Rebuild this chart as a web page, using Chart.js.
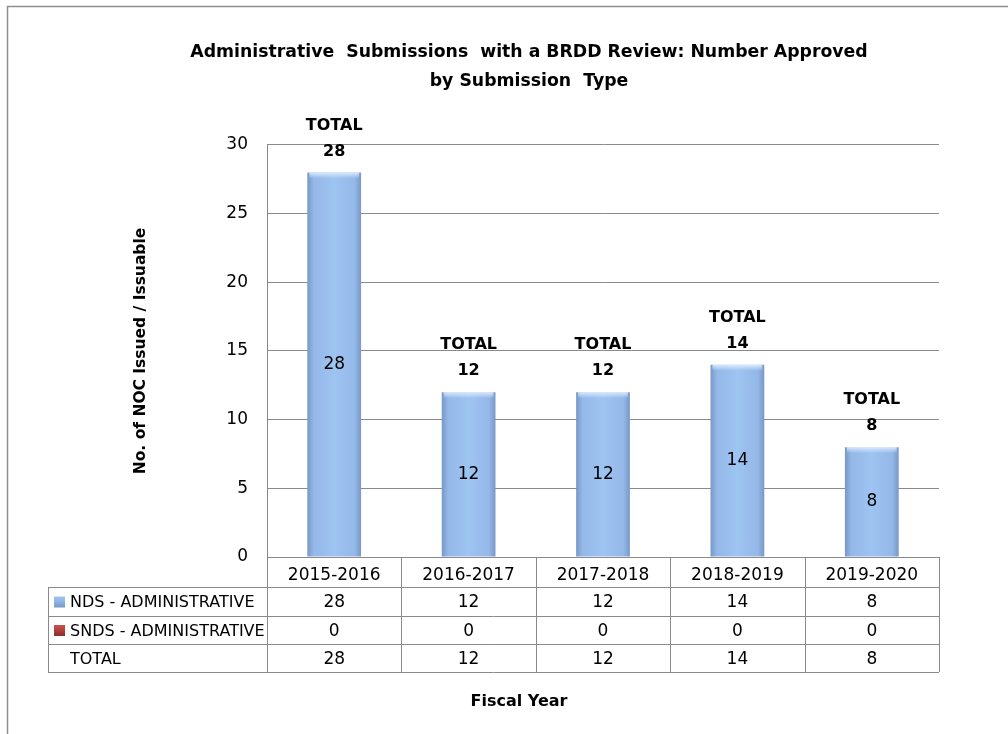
<!DOCTYPE html>
<html>
<head>
<meta charset="utf-8">
<script src="https://cdn.jsdelivr.net/npm/chart.js@4/dist/chart.umd.min.js"></script>
<style>
  html, body { margin: 0; padding: 0; background: #fff; }
  #wrap { width: 1008px; height: 734px; position: relative; }
</style>
</head>
<body>
<div id="wrap"><canvas id="c"></canvas></div>
<script>
// ---- data ----
const categories = ['2015-2016', '2016-2017', '2017-2018', '2018-2019', '2019-2020'];
const ndsAdministrative = [28, 12, 12, 14, 8];
const sndsAdministrative = [0, 0, 0, 0, 0];
const totals = [28, 12, 12, 14, 8];
const seriesNames = ['NDS - ADMINISTRATIVE', 'SNDS - ADMINISTRATIVE'];
const totalRowName = 'TOTAL';
const yTicksMin = 0, yTicksMax = 30, yTicksStep = 5;
const titleLines = ['Administrative  Submissions  with a BRDD Review: Number Approved', 'by Submission  Type'];
const yTitle = 'No. of NOC Issued / Issuable';
const xTitle = 'Fiscal Year';

const FONT = '"DejaVu Sans", sans-serif';
const GRID = '#8a8a8a';

function barGradient(ctx, color) {
  const chart = ctx.chart;
  if (!chart.chartArea) return color.mid;
  const xs = chart.scales.x;
  const cx = xs.getPixelForValue(ctx.dataIndex);
  const w = (xs.right - xs.left) / categories.length * 0.4;
  const g = chart.ctx.createLinearGradient(cx - w / 2, 0, cx + w / 2, 0);
  g.addColorStop(0, color.edge);
  g.addColorStop(0.12, color.mid);
  g.addColorStop(0.5, color.light);
  g.addColorStop(0.88, color.mid);
  g.addColorStop(1, color.edge);
  return g;
}
const blue = { edge: '#7898c6', mid: '#94b8e8', light: '#9ec4f2' };
const red = { edge: '#8c2f2c', mid: '#b94441', light: '#c9524f' };

const framePlugin = {
  id: 'frame',
  beforeDraw(chart) {
    const c = chart.ctx;
    c.save();
    c.fillStyle = '#fff';
    c.fillRect(0, 0, chart.width, chart.height);
    c.strokeStyle = '#8e8e8e';
    c.lineWidth = 1.5;
    c.beginPath();
    c.moveTo(7.5, chart.height + 2);
    c.lineTo(7.5, 6.5);
    c.lineTo(chart.width + 2, 6.5);
    c.stroke();
    c.restore();
  }
};

const labelsPlugin = {
  id: 'barLabels',
  afterDatasetsDraw(chart) {
    const c = chart.ctx;
    const meta = chart.getDatasetMeta(0);
    const ys = chart.scales.y;
    c.save();
    // light bevel at the top of each bar
    meta.data.forEach((bar) => {
      const w = bar.width;
      const g = c.createLinearGradient(0, bar.y, 0, bar.y + 6);
      g.addColorStop(0, 'rgba(225,238,255,0.9)');
      g.addColorStop(1, 'rgba(225,238,255,0)');
      c.fillStyle = g;
      c.fillRect(bar.x - w / 2 + 2, bar.y, w - 4, 6);
    });
    c.fillStyle = '#000';
    c.textAlign = 'center';
    c.textBaseline = 'middle';
    meta.data.forEach((bar, i) => {
      const v = chart.data.datasets[0].data[i];
      c.font = '17px ' + FONT;
      c.fillText(String(v), bar.x, (bar.y + bar.base) / 2);
      const top = ys.getPixelForValue(totals[i]);
      c.font = 'bold 16px ' + FONT;
      c.fillText('TOTAL', bar.x, top - 47);
      c.fillText(String(totals[i]), bar.x, top - 21);
    });
    c.restore();
  }
};

const tablePlugin = {
  id: 'dataTable',
  afterDraw(chart) {
    const c = chart.ctx;
    const xs = chart.scales.x;
    const area = chart.chartArea;
    const n = categories.length;
    const colW = (xs.right - xs.left) / n;
    const tableLeft = 48;
    const rowsY = [area.bottom, area.bottom + 30, area.bottom + 59, area.bottom + 87, area.bottom + 115];
    c.save();
    c.strokeStyle = GRID;
    c.lineWidth = 1;
    c.beginPath();
    for (let r = 1; r < rowsY.length; r++) {
      const y = Math.round(rowsY[r]) + 0.5;
      c.moveTo(tableLeft, y); c.lineTo(xs.right, y);
    }
    for (let k = 0; k <= n; k++) {
      const x = Math.round(xs.left + k * colW) + 0.5;
      c.moveTo(x, rowsY[0]); c.lineTo(x, rowsY[4]);
    }
    const lx = tableLeft + 0.5;
    c.moveTo(lx, rowsY[1]); c.lineTo(lx, rowsY[4]);
    c.stroke();

    const rows = [
      { name: seriesNames[0], vals: chart.data.datasets[0].data, color: blue },
      { name: seriesNames[1], vals: chart.data.datasets[1].data, color: red },
      { name: totalRowName, vals: totals, color: null }
    ];
    c.textBaseline = 'middle';
    rows.forEach((row, r) => {
      const yc = (rowsY[r + 1] + rowsY[r + 2]) / 2;
      if (row.color) {
        const g = c.createLinearGradient(0, yc - 5, 0, yc + 6);
        g.addColorStop(0, row.color.light);
        g.addColorStop(0.35, row.color.mid);
        g.addColorStop(1, row.color.edge);
        c.fillStyle = g;
        c.fillRect(54, yc - 5, 11, 11);
      }
      c.fillStyle = '#000';
      c.font = '16px ' + FONT;
      c.textAlign = 'left';
      c.fillText(row.name, 70, yc + 1.5);
      c.font = '17px ' + FONT;
      c.textAlign = 'center';
      row.vals.forEach((v, i) => {
        c.fillText(String(v), xs.getPixelForValue(i), yc + 1.5);
      });
    });
    c.font = 'bold 16px ' + FONT;
    c.textAlign = 'center';
    c.fillText(xTitle, 519, 702);
    c.restore();
  }
};

new Chart(document.getElementById('c'), {
  type: 'bar',
  data: {
    labels: categories,
    datasets: [
      { label: seriesNames[0], data: ndsAdministrative, backgroundColor: (ctx) => barGradient(ctx, blue), borderWidth: 0 },
      { label: seriesNames[1], data: sndsAdministrative, backgroundColor: (ctx) => barGradient(ctx, red), borderWidth: 0 }
    ]
  },
  options: {
    responsive: true,
    maintainAspectRatio: false,
    animation: false,
    devicePixelRatio: 1,
    layout: { padding: { left: 119, right: 69, top: 0, bottom: 0 } },
    datasets: { bar: { barPercentage: 0.4, categoryPercentage: 1 } },
    plugins: {
      legend: { display: false },
      tooltip: { enabled: false },
      title: {
        display: true,
        text: titleLines,
        color: '#000',
        font: { family: FONT, size: 17.3, weight: 'bold', lineHeight: 1.676 },
        padding: { top: 38.5, bottom: 48.5 }
      }
    },
    scales: {
      x: {
        stacked: true,
        grid: { display: false, drawTicks: false },
        border: { display: true, color: GRID },
        ticks: { color: '#000', font: { family: FONT, size: 17 }, padding: 8, maxRotation: 0 },
        afterFit(scale) { scale.height = 177; }
      },
      y: {
        stacked: true,
        min: yTicksMin,
        max: yTicksMax,
        ticks: { stepSize: yTicksStep, color: '#000', font: { family: FONT, size: 17 }, padding: 19 },
        grid: { color: GRID, drawTicks: false },
        border: { display: true, color: GRID },
        title: {
          display: true,
          text: yTitle,
          color: '#000',
          font: { family: FONT, size: 15.5, weight: 'bold', lineHeight: 1.2 },
          padding: { top: 13, bottom: 0 }
        },
        afterFit(scale) { scale.width = 148; }
      }
    }
  },
  plugins: [framePlugin, labelsPlugin, tablePlugin]
});
</script>
</body>
</html>
